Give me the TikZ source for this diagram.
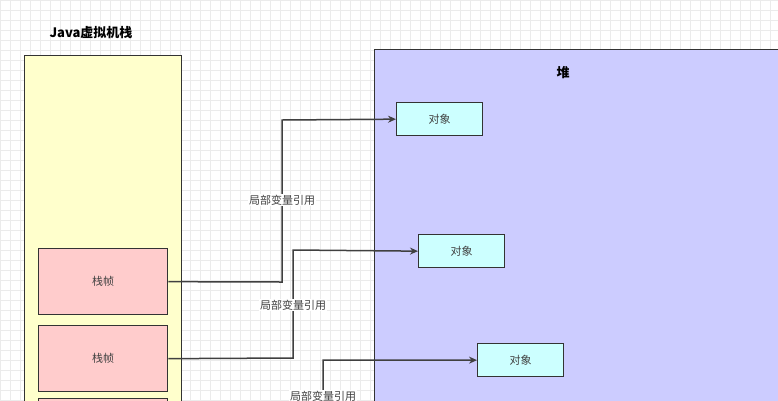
\documentclass[tikz,border=0pt]{standalone}
\usepackage{fontspec}
\usetikzlibrary{arrows.meta}
\setmainfont{Noto Sans CJK SC}
\definecolor{objc}{HTML}{CCFFFF}
\definecolor{frmc}{HTML}{FFCCCC}
\definecolor{stc}{HTML}{FFFFCC}
\definecolor{hpc}{HTML}{CCCCFF}
\begin{document}
\begin{tikzpicture}[x=1pt,y=-1pt,
 box/.style={draw=black!80,line width=1.3pt,anchor=north west,inner sep=0pt},
 conn/.style={draw=black!75,line width=1.5pt,-{Stealth[length=8pt,width=7pt]}},
 lbl/.style={fill=white,font=\fontsize{11}{12}\selectfont,text=black!75,inner sep=1pt},
 obj/.style={box,fill=objc,minimum width=86pt,minimum height=33pt,font=\fontsize{11}{12}\selectfont,text=black!75},
 frm/.style={box,fill=frmc,minimum width=129pt,minimum height=66pt,font=\fontsize{11}{12}\selectfont,text=black!75}]
\useasboundingbox (0,0) rectangle (778,400);
\clip (0,0) rectangle (778,400);
\fill[white] (0,0) rectangle (778,400);
\draw[black!8,step=10pt] (0,0) grid (780,400);
\node[box,fill=stc,minimum width=157pt,minimum height=380pt] (stack) at (24,55) {};
\node[box,fill=hpc,minimum width=420pt,minimum height=380pt] (heap) at (374,49) {};
\node[font=\bfseries\fontsize{13}{14}\selectfont] (st) at (91,33) {Java虚拟机栈};
\node[font=\bfseries\fontsize{13}{14}\selectfont] (ht) at (563,73) {堆};
\node[frm] (f1) at (38,248) {栈帧};
\node[frm] (f2) at (38,325) {栈帧};
\node[frm] (f3) at (38,398) {};
\node[obj] (o1) at (396,102) {对象};
\node[obj] (o2) at (418,234) {对象};
\node[obj] (o3) at (477,343) {对象};
\coordinate (c3) at (323,400);
\draw[conn] (f1.east) -- (282,282) -- (282,120) -- (o1.west);
\draw[conn] (f2.east) -- (293,358) -- (293,250) -- (o2.west);
\draw[conn] (c3) -- (323,360) -- (o3.west);
\node[lbl] (l1) at (282,200) {局部变量引用};
\node[lbl] (l2) at (293,305) {局部变量引用};
\node[lbl] (l3) at (323,396) {局部变量引用};
\end{tikzpicture}
\end{document}
